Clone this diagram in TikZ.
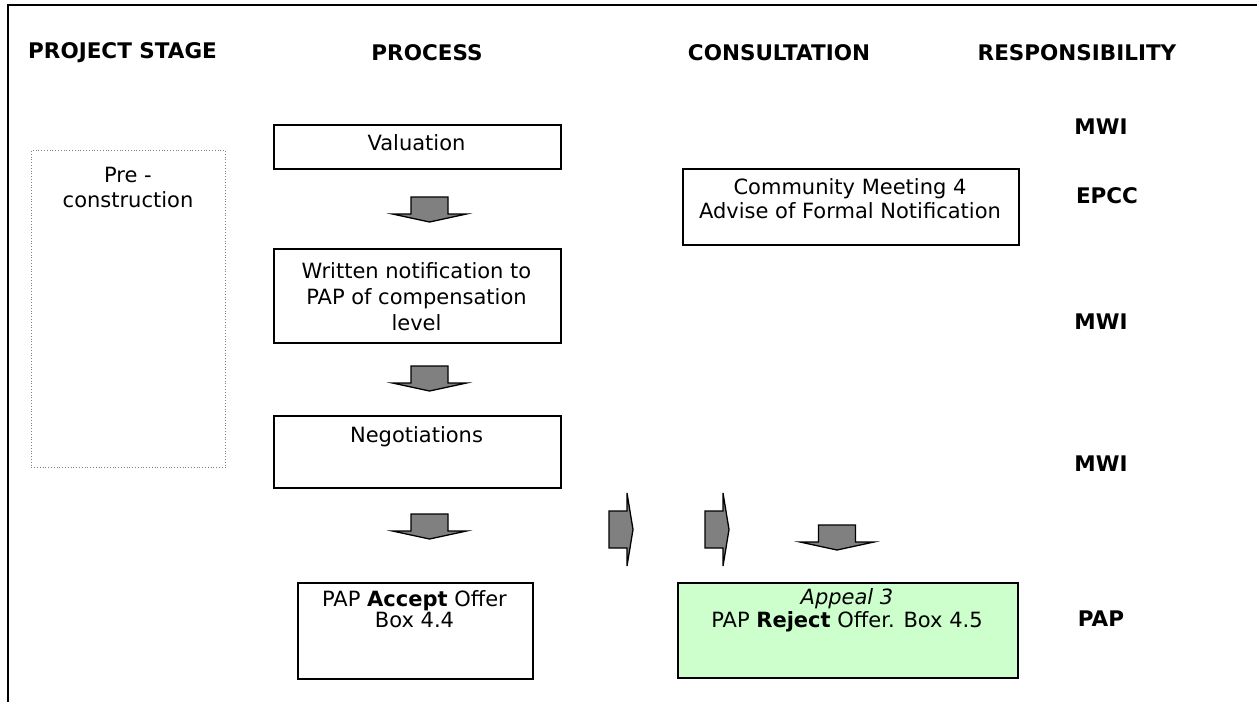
\documentclass[tikz,border=0pt]{standalone}
\usepackage{fontspec}
\setmainfont{DejaVu Sans}
\definecolor{arrowgray}{HTML}{808080}
\definecolor{appealgreen}{HTML}{CCFFCC}
\begin{document}
\begin{tikzpicture}[x=1pt,y=-1pt,
  every node/.style={inner sep=0pt, font=\fontsize{21}{25}\selectfont},
  box/.style={draw=black, line width=1.5pt, anchor=north west},
  hdr/.style={font=\fontsize{21.5}{25}\selectfont\bfseries},
  flow/.style={fill=arrowgray, draw=black, line width=1.3pt, line join=miter},
  downarrow/.pic={\draw[flow] (-18.5,0) -- (18.5,0) -- (18.5,17) -- (37,17) -- (0,25) -- (-37,17) -- (-18.5,17) -- cycle;},
  rightarrow/.pic={\draw[flow] (0,-18.5) -- (18,-18.5) -- (18,-36.5) -- (24,0) -- (18,36.5) -- (18,18.5) -- (0,18.5) -- cycle;},
]
\useasboundingbox (0,0) rectangle (1257,702);

% frame
\draw[line width=2pt] (8,702) -- (8,4.7) -- (1257,4.7);

% column headings
\node[hdr, anchor=west] (hStage) at (28,53) {PROJECT STAGE};
\node[hdr] (hProc) at (427,53) {PROCESS};
\node[hdr] (hCons) at (779,53) {CONSULTATION};
\node[hdr] (hResp) at (1077,53) {RESPONSIBILITY};

% project stage
\node[box, draw=gray, line width=0.8pt, dotted, minimum width=194pt, minimum height=317pt] (stage) at (31,150) {};
\node[align=center] (stageT) at (128,187) {Pre -\\construction};

% process column
\node[box, minimum width=287pt, minimum height=44pt] (val) at (273,124) {};
\node (valT) at (416.5,143) {Valuation};

\node[box, minimum width=287pt, minimum height=94pt] (wri) at (273,248) {};
\node[align=center, font=\fontsize{21}{26}\selectfont] (wriT) at (416.5,297) {Written notification to\\PAP of compensation\\level};

\node[box, minimum width=287pt, minimum height=72pt] (neg) at (273,415) {};
\node (negT) at (416.5,437) {Negotiations};

\node[box, minimum width=235pt, minimum height=96pt] (acc) at (297,582) {};
\node[align=center, font=\fontsize{21}{19}\selectfont] (accT) at (414.5,609) {PAP \textbf{Accept} Offer\\Box 4.4};

% consultation column
\node[box, minimum width=336pt, minimum height=76pt] (com) at (682,168) {};
\node[align=center, font=\fontsize{21}{24}\selectfont] (comT) at (850,199) {Community Meeting 4\\Advise of Formal Notification};

\node[box, fill=appealgreen, minimum width=340pt, minimum height=95pt] (app) at (677,582) {};
\node[align=center, font=\fontsize{21}{23}\selectfont] (appT) at (847,610) {\textit{Appeal 3}\\PAP \textbf{Reject} Offer. Box 4.5};

% responsibility column
\node[hdr] (r1) at (1101,127) {MWI};
\node[hdr] (r2) at (1107,196) {EPCC};
\node[hdr] (r3) at (1101,322) {MWI};
\node[hdr] (r4) at (1101,464) {MWI};
\node[hdr] (r5) at (1101,619) {PAP};

% block arrows
\pic at (429.5,197) {downarrow};
\pic at (429.5,366) {downarrow};
\pic at (429.5,514) {downarrow};
\pic at (837,525) {downarrow};
\pic at (609,529.5) {rightarrow};
\pic at (705,529.5) {rightarrow};
\end{tikzpicture}
\end{document}
